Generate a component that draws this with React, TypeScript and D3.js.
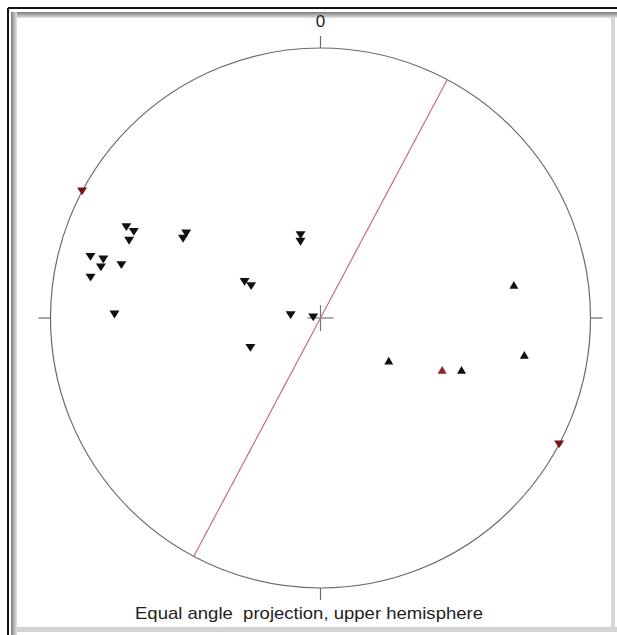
import React from "react";
import * as d3 from "d3";

// Down-pointing triangles: [trend, plunge]
const downTrends = [298, 295.1, 294.8, 292.0, 284.9, 285.1, 283.0, 284.9, 280.0, 271.0, 302.2, 300.0, 346.5, 345.3, 295.5, 294.8, 275.7, 275.5, 247.0, 117.9];
const downPlunges = [0, 13.1, 15.4, 15.2, 7.2, 10.4, 10.3, 15.3, 8.3, 15.3, 29.1, 29.1, 54.9, 57.4, 55.4, 58.4, 77.3, 86.9, 58.5, 0];
const downHighlight = [true, false, false, false, false, false, false, false, false, false, false, false, false, false, false, false, false, false, false, true];

// Up-pointing triangles
const upTrends = [80.3, 122.0, 113.1, 110.2, 100.3];
const upPlunges = [18.0, 56.8, 37.8, 31.8, 15.0];
const upHighlight = [false, false, true, false, false];

// Great circle plane (strike, dip)
const planeStrike = [28];
const planeDip = [90];

const tickLabels = ["0"];
const caption = "Equal angle  projection, upper hemisphere";

const W = 617;
const H = 635;
const cx = 320.5;
const cy = 318;
const R = 270;

const rScale = d3.scaleLinear().domain([0, 1]).range([0, R]);
const xScale = d3.scaleLinear().domain([-1, 1]).range([cx - R, cx + R]);
const yScale = d3.scaleLinear().domain([-1, 1]).range([cy + R, cy - R]);

function project(trend: number, plunge: number): [number, number] {
  const rn = Math.tan(((90 - plunge) * Math.PI) / 180 / 2);
  const t = (trend * Math.PI) / 180;
  return [xScale(rn * Math.sin(t)), yScale(rn * Math.cos(t))];
}

function greatCircle(strike: number, dip: number): [number, number][] {
  const s = (strike * Math.PI) / 180;
  const dd = s + Math.PI / 2;
  const d = (dip * Math.PI) / 180;
  const sv = [Math.sin(s), Math.cos(s), 0];
  const dv = [Math.cos(d) * Math.sin(dd), Math.cos(d) * Math.cos(dd), Math.sin(d)];
  const pts: [number, number][] = [];
  for (let i = 0; i <= 180; i += 1) {
    const a = (i * Math.PI) / 180;
    const v = [0, 1, 2].map((k) => Math.cos(a) * sv[k] + Math.sin(a) * dv[k]);
    const pl = (Math.asin(Math.max(-1, Math.min(1, v[2]))) * 180) / Math.PI;
    const tr = (Math.atan2(v[0], v[1]) * 180) / Math.PI;
    pts.push(project(tr, pl));
  }
  return pts;
}

const downTri = "M-5,-3.8L5,-3.8L0,4Z";
const upTri = "M-4.5,3.8L4.5,3.8L0,-4Z";

export default function App() {
  const line = d3.line();
  const gc = greatCircle(planeStrike[0], planeDip[0]);
  const tick = 12;
  return (
    <div style={{ position: "absolute", left: 0, top: 0 }}>
      <svg width={W} height={H} style={{ display: "block", background: "#fff" }}>
        <defs>
          <linearGradient id="bevT" x1="0" y1="0" x2="0" y2="1">
            <stop offset="0" stopColor="#7a7a7a" />
            <stop offset="1" stopColor="#e4e4e4" />
          </linearGradient>
          <linearGradient id="bevL" x1="0" y1="0" x2="1" y2="0">
            <stop offset="0" stopColor="#7a7a7a" />
            <stop offset="1" stopColor="#e4e4e4" />
          </linearGradient>
        </defs>
        <line x1={8} y1={8} x2={W} y2={8} stroke="#111" strokeWidth={2} />
        <line x1={8} y1={8} x2={8} y2={H} stroke="#111" strokeWidth={2} />
        <rect x={11} y={12} width={W - 11} height={6} fill="url(#bevT)" />
        <rect x={11} y={12} width={6} height={H - 12} fill="url(#bevL)" />
        <rect x={17} y={627} width={W - 17} height={5} fill="#d2d2d2" />
        <rect x={611} y={18} width={4} height={614} fill="#d6d6d6" />

        <circle cx={cx} cy={cy} r={rScale(1)} fill="none" stroke="#6a6a6a" strokeWidth={1.2} />
        <line x1={cx} y1={cy - R} x2={cx} y2={cy - R - tick} stroke="#6a6a6a" strokeWidth={1.2} />
        <line x1={cx} y1={cy + R} x2={cx} y2={cy + R + tick} stroke="#6a6a6a" strokeWidth={1.2} />
        <line x1={cx - R} y1={cy} x2={cx - R - tick} y2={cy} stroke="#6a6a6a" strokeWidth={1.2} />
        <line x1={cx + R} y1={cy} x2={cx + R + tick} y2={cy} stroke="#6a6a6a" strokeWidth={1.2} />
        <line x1={cx - 13} y1={cy} x2={cx + 13} y2={cy} stroke="#777" strokeWidth={1.2} />
        <line x1={cx} y1={cy - 13} x2={cx} y2={cy + 13} stroke="#777" strokeWidth={1.2} />

        <path d={line(gc) || ""} fill="none" stroke="#c4707c" strokeWidth={1.2} />

        {downTrends.map((t, i) => {
          const [x, y] = project(t, downPlunges[i]);
          return (
            <path key={"d" + i} d={downTri} transform={`translate(${x},${y})`} fill={downHighlight[i] ? "#7a1418" : "#111"} />
          );
        })}
        {upTrends.map((t, i) => {
          const [x, y] = project(t, upPlunges[i]);
          return (
            <path key={"u" + i} d={upTri} transform={`translate(${x},${y})`} fill={upHighlight[i] ? "#8a2228" : "#111"} />
          );
        })}

        <text x={cx} y={27} textAnchor="middle" fontFamily="Liberation Sans, Arial, sans-serif" fontSize={17} fill="#222">
          {tickLabels[0]}
        </text>
        <text x={309} y={619} textAnchor="middle" fontFamily="Liberation Sans, Arial, sans-serif" fontSize={17} fill="#222" style={{ whiteSpace: "pre" }} textLength={348} lengthAdjust="spacingAndGlyphs">
          {caption}
        </text>
      </svg>
    </div>
  );
}
